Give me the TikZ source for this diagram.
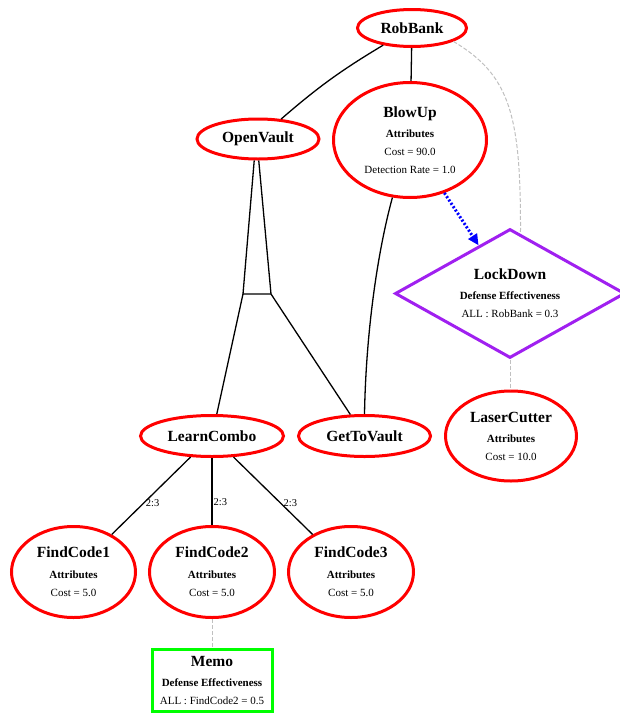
\documentclass[tikz,border=0pt]{standalone}
\usepackage{fontspec}
\setmainfont{Liberation Serif}
\usetikzlibrary{shapes.geometric,arrows.meta,calc}

\definecolor{ldpurple}{HTML}{A020F0}
\definecolor{memogreen}{HTML}{00FF00}
\definecolor{linkgray}{HTML}{C0C0C0}

\newcommand\nodetitle[1]{{\fontsize{15.5}{18}\selectfont\bfseries #1}}
\newcommand\nodehead[1]{{\bfseries #1}}

\begin{document}
\begin{tikzpicture}[x=1pt,y=-1pt,
  every node/.style={font=\fontsize{11}{18}\selectfont, align=center, inner sep=0pt},
  goal/.style={ellipse, draw=red, line width=3pt},
  defense/.style={diamond, aspect=1.78, draw=ldpurple, line width=3pt},
  memobox/.style={rectangle, draw=memogreen, line width=3pt},
  link/.style={line width=1.3pt, black},
  reflink/.style={line width=1pt, linkgray, dash pattern=on 4pt off 2pt},
  counter/.style={line width=3pt, blue, dash pattern=on 2pt off 2pt,
                  -{Triangle[length=11pt,width=10pt]}},
  ratio/.style={font=\fontsize{10.5}{12}\selectfont, anchor=west, inner sep=2pt}
]
\useasboundingbox (0,0) rectangle (620,715);

% attack goals
\node[goal, minimum width=109pt, minimum height=37pt] (rob) at (412,28) {\nodetitle{RobBank}};
\node[goal, minimum width=153pt, minimum height=115pt] (blow) at (410,140)
  {\nodetitle{BlowUp}\\[2pt]\nodehead{Attributes}\\Cost = 90.0\\Detection Rate = 1.0};
\node[goal, minimum width=122pt, minimum height=40pt] (ov) at (258,139) {\nodetitle{OpenVault}};
\node[goal, minimum width=131pt, minimum height=90pt] (laser) at (511,436)
  {\nodetitle{LaserCutter}\\[2pt]\nodehead{Attributes}\\Cost = 10.0};
\node[goal, minimum width=143pt, minimum height=41pt] (lc) at (212,436) {\nodetitle{LearnCombo}};
\node[goal, minimum width=132pt, minimum height=41pt] (gtv) at (364.5,436) {\nodetitle{GetToVault}};
\node[goal, minimum width=124pt, minimum height=91pt] (fc1) at (73.5,572)
  {\nodetitle{FindCode1}\\[3pt]\nodehead{Attributes}\\Cost = 5.0};
\node[goal, minimum width=125pt, minimum height=91pt] (fc2) at (212,572)
  {\nodetitle{FindCode2}\\[3pt]\nodehead{Attributes}\\Cost = 5.0};
\node[goal, minimum width=125pt, minimum height=91pt] (fc3) at (351,572)
  {\nodetitle{FindCode3}\\[3pt]\nodehead{Attributes}\\Cost = 5.0};

% defenses
\node[defense, minimum width=230pt, minimum height=129pt] (ld) at (510,293.5)
  {\nodetitle{LockDown}\\[2pt]\nodehead{Defense Effectiveness}\\ALL : RobBank = 0.3};
\node[memobox, minimum width=120pt, minimum height=62pt] (memo) at (212,680.5)
  {\nodetitle{Memo}\\[2pt]\nodehead{Defense Effectiveness}\\ALL : FindCode2 = 0.5};

% AND junction below OpenVault
\coordinate (j1) at (243,294);
\coordinate (j2) at (271,294);

% refinements
\draw[link] (rob) to[bend right=5] (ov);
\draw[link] (rob) -- (blow);
\draw[link] (ov.-100) -- (j1) -- (j2) -- (ov.-88);
\draw[link] (j1) -- (lc);
\draw[link] (j2) -- (gtv);
\draw[link] (blow.-107) .. controls (378,250) and (366,330) .. (gtv.north);
\draw[link] (lc) -- (fc1) node[ratio, pos=0.6] {2:3};
\draw[link] (lc) -- (fc2) node[ratio, pos=0.66, inner sep=1pt] {2:3};
\draw[link] (lc) -- (fc3) node[ratio, pos=0.6] {2:3};

% defense links
\draw[reflink] (rob.-18) .. controls (510,75) and (521,115) .. ($(ld.north)!0.09!(ld.east)$);
\draw[reflink] (ld.south) -- (ld.south |- laser.north);
\draw[reflink] (fc2) -- (memo);
\draw[counter] (blow.-57) -- (ld);
\end{tikzpicture}
\end{document}
